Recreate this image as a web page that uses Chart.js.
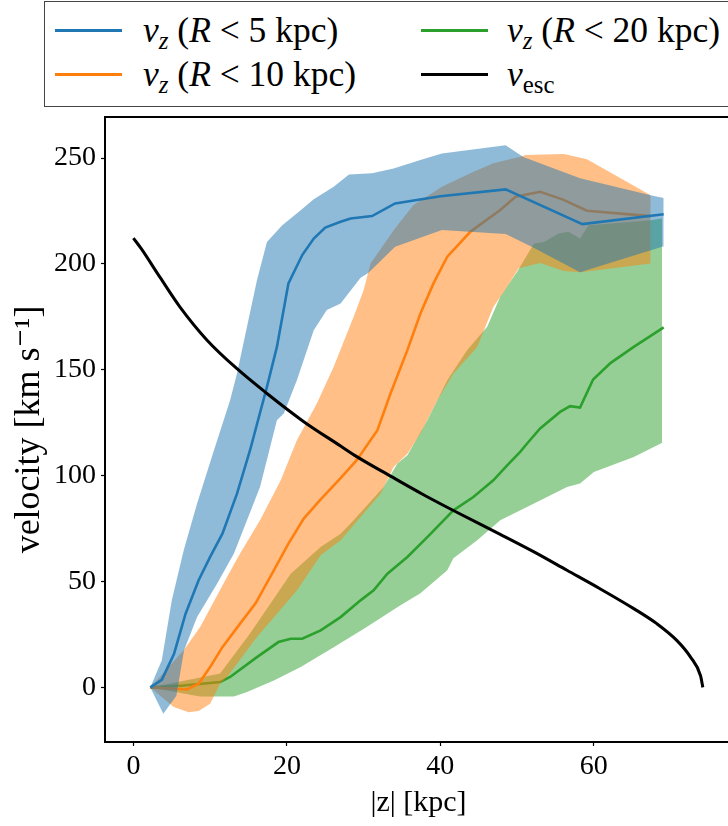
<!DOCTYPE html>
<html>
<head>
<meta charset="utf-8">
<script src="https://cdn.jsdelivr.net/npm/chart.js@4.4.0/dist/chart.umd.min.js"></script>
<style>
  html, body { margin: 0; padding: 0; background: #fff; overflow: hidden; }
  #wrap { position: relative; width: 728px; height: 826px; overflow: hidden; }
  #chart { position: absolute; left: 0; top: 0; }
  .legend {
    position: absolute; left: 44px; top: 1px; width: 720px; height: 106px;
    border: 1.5px solid #444; box-sizing: border-box; background: #fff;
    font-family: 'Liberation Serif', 'DejaVu Serif', serif; font-size: 35.5px; color: #000;
  }
  .handle { position: absolute; width: 67px; height: 3px; }
  .label { position: absolute; height: 44px; line-height: 44px; white-space: nowrap; }
  .label sub { font-size: 0.7em; vertical-align: -0.3em; line-height: 0; }
</style>
</head>
<body>
<div id="wrap">
  <canvas id="chart" width="740" height="826"></canvas>
  <div class="legend">
    <div class="handle" style="left:10px; top:27px; background:#1f77b4"></div>
    <div class="label" style="left:98px; top:6px"><i>v</i><sub><i>z</i></sub> (<i>R</i> &lt; 5 kpc)</div>
    <div class="handle" style="left:10px; top:71px; background:#ff7f0e"></div>
    <div class="label" style="left:98px; top:50px"><i>v</i><sub><i>z</i></sub> (<i>R</i> &lt; 10 kpc)</div>
    <div class="handle" style="left:376px; top:27px; background:#2ca02c"></div>
    <div class="label" style="left:462px; top:6px"><i>v</i><sub><i>z</i></sub> (<i>R</i> &lt; 20 kpc)</div>
    <div class="handle" style="left:376px; top:71px; background:#000"></div>
    <div class="label" style="left:462px; top:50px"><i>v</i><sub>esc</sub></div>
  </div>
</div>
<script>
// tick labels
const xTicks = [0, 20, 40, 60];
const yTicks = [0, 50, 100, 150, 200, 250];

// v_z (R < 5 kpc): median and band
const blueMidZ = [2.2, 3.7, 5.3, 6.8, 8.5, 10.0, 11.6, 13.5, 15.2, 17.4, 18.7, 20.2, 22.0, 23.5, 25.0, 27.0, 28.3, 31.1, 34.1, 40.0, 48.5, 58.5, 69.1];
const blueMidV = [0, 3.6, 15.9, 34.8, 50.6, 61.6, 72.6, 91.5, 112, 141.9, 160.8, 190.8, 204.2, 212, 217.2, 219.9, 221.5, 222.6, 228.6, 232, 235.2, 218.8, 223.5];
const blueHiZ = [2.2, 3.7, 5.0, 6.55, 8.3, 10.5, 12.6, 13.5, 14.8, 16.1, 17.4, 19.4, 21.8, 23.5, 26.1, 28.1, 31.1, 33.9, 37.4, 40.2, 48.5, 50.8, 58.2, 67.4, 69.1];
const blueHiV = [0, 12.8, 41, 64.7, 86.8, 112, 135.6, 148.3, 170.3, 192.3, 210.4, 218.3, 225.4, 230.5, 236.4, 242.3, 242.8, 245.1, 249.1, 252.2, 256.1, 250.5, 240.5, 232.5, 231.1];
const blueLoZ = [2.2, 3.9, 5.6, 6.6, 8.3, 10.9, 13.1, 14.8, 16.5, 18.7, 19.6, 21.3, 23.5, 25.2, 27.0, 29.6, 30.6, 34.1, 40.2, 48.5, 51.9, 58.2, 69.1];
const blueLoV = [0, -12.4, -4, 17.5, 33.2, 49, 63.2, 78.9, 94.7, 126.2, 129.3, 145.1, 168.7, 178.2, 181.3, 193.5, 195.7, 208.1, 216, 214.1, 208.1, 196.1, 208.4];

// v_z (R < 10 kpc)
const orangeMidZ = [2.2, 7.0, 8.5, 10.0, 11.6, 13.9, 15.9, 18.3, 20.2, 22.2, 24.4, 27.0, 29.1, 31.8, 33.5, 35.7, 37.4, 39.1, 40.9, 43.9, 47.8, 49.8, 53.0, 55.9, 59.1, 67.4];
const orangeMidV = [0, -1, 1.7, 9.6, 19, 30.1, 39.6, 55.3, 67.9, 79.7, 88.8, 98.8, 107.3, 121.5, 138.8, 159.3, 176.6, 190.8, 203.4, 215.2, 225.5, 231.7, 234.1, 230.5, 225.1, 222.6];
const orangeHiZ = [2.2, 6.55, 8.7, 12.2, 13.9, 16.5, 19.2, 21.3, 23.9, 26.1, 28.7, 30.0, 30.9, 34.1, 36.5, 40.2, 43.9, 46.9, 50.4, 51.1, 56.1, 59.1, 67.4];
const orangeHiV = [0, 17.5, 28.5, 52.1, 63.2, 78.9, 97.8, 116.7, 134.1, 151.4, 175, 187.6, 200.2, 216.8, 227.8, 236.4, 242.8, 247.5, 250.6, 251.4, 251.9, 249.4, 232.5];
const orangeLoZ = [2.2, 5.25, 7.2, 8.5, 10.0, 11.3, 12.2, 16.1, 21.3, 24.4, 27.0, 29.6, 32.2, 33.9, 35.7, 37.4, 39.6, 41.7, 44.8, 46.9, 48.7, 50.2, 53.0, 56.1, 58.2, 67.4];
const orangeLoV = [0, -9.3, -11.7, -11.2, -7.7, 1.7, 4.9, 23.8, 45.8, 62.4, 69.5, 80.5, 91.5, 104.1, 110.4, 119.9, 135.6, 148.3, 160.8, 179.7, 189.2, 198, 200.5, 196.7, 196.1, 200.2];

// v_z (R < 20 kpc)
const greenMidZ = [2.2, 6.55, 11.3, 12.6, 16.1, 18.9, 20.5, 22.0, 24.4, 27.0, 29.6, 31.3, 33.1, 35.7, 38.3, 41.7, 44.3, 46.9, 48.7, 50.4, 51.3, 53.0, 55.6, 56.9, 58.2, 59.9, 62.2, 65.2, 69.1];
const greenMidV = [0, 0.9, 2.5, 4.9, 14.3, 21.4, 23, 23, 26.9, 33.2, 41.1, 45.8, 53.7, 61.6, 71, 83.6, 89.9, 97.8, 104.9, 111.2, 115.2, 122.3, 130.1, 132.8, 132.2, 145.4, 153.3, 160.8, 170];
const greenHiZ = [2.2, 11.3, 15.2, 20.5, 24.4, 27.0, 28.7, 32.6, 34.4, 35.7, 38.3, 40.9, 43.5, 46.1, 47.8, 50.0, 52.2, 53.5, 55.4, 56.7, 58.2, 59.3, 67.4, 68.9];
const greenHiV = [0, 6.5, 25.4, 53.7, 66.3, 72.6, 78.9, 94.7, 105.7, 109.6, 126.2, 145.1, 159.3, 170.3, 184.5, 196.3, 209.7, 210.4, 214.4, 215.2, 212, 218.3, 220.6, 221.5];
const greenLoZ = [2.2, 8.7, 13.1, 14.8, 18.3, 21.8, 26.1, 30.4, 34.8, 37.4, 40.9, 41.7, 44.8, 47.8, 52.2, 56.5, 58.2, 60.0, 65.2, 68.9];
const greenLoV = [0, -4.3, -4.3, -2.2, 3.3, 9.6, 19, 28.5, 38.8, 44.4, 55.3, 61, 69.5, 78.9, 86.8, 94.7, 96.3, 101.7, 108.8, 115.5];

// escape velocity
const escZ = [0, 1.0, 3.5, 6.1, 9.6, 13.5, 17.4, 22.2, 27.0, 29.1, 33.5, 37.8, 42.2, 47.8, 52.2, 56.5, 60.8, 65.2, 68.2, 70.8, 72.6, 73.9, 74.2];
const escV = [212.2, 207.3, 193.5, 179.5, 164, 150.5, 138.8, 125.5, 114, 109, 99.8, 91, 82.6, 72.3, 64, 55.3, 46.6, 37.2, 30.1, 22.2, 14.3, 5.5, 0];

const pts = (zs, vs) => zs.map((z, i) => ({ x: z, y: vs[i] }));

function midLine(zs, vs, color, order) {
  return { data: pts(zs, vs), borderColor: color, borderWidth: 2.6, pointRadius: 0, fill: false, order };
}
function bandEdge(zs, vs, fillColor, target, order) {
  return { data: pts(zs, vs), borderWidth: 0, borderColor: 'rgba(0,0,0,0)', backgroundColor: fillColor, pointRadius: 0, fill: target, order };
}

// draw order: green, orange, blue, then escape velocity on top
const datasets = [
  midLine(greenMidZ, greenMidV, '#2ca02c', 70),
  bandEdge(greenHiZ, greenHiV, 'rgba(44,160,44,0.5)', 2, 60),
  bandEdge(greenLoZ, greenLoV, 'rgba(0,0,0,0)', false, 60),
  midLine(orangeMidZ, orangeMidV, '#ff7f0e', 50),
  bandEdge(orangeHiZ, orangeHiV, 'rgba(255,127,14,0.5)', 5, 40),
  bandEdge(orangeLoZ, orangeLoV, 'rgba(0,0,0,0)', false, 40),
  midLine(blueMidZ, blueMidV, '#1f77b4', 30),
  bandEdge(blueHiZ, blueHiV, 'rgba(31,119,180,0.5)', 8, 20),
  bandEdge(blueLoZ, blueLoV, 'rgba(0,0,0,0)', false, 20),
  { data: pts(escZ, escV), borderColor: '#000', borderWidth: 3, pointRadius: 0, fill: false,
    cubicInterpolationMode: 'monotone', order: 10 }
];

// top spine of the axes box
const framePlugin = {
  id: 'frame',
  afterDraw(chart) {
    const { ctx, chartArea: a } = chart;
    ctx.save();
    ctx.strokeStyle = '#000';
    ctx.lineWidth = 2;
    ctx.beginPath();
    ctx.moveTo(a.left - 1, a.top);
    ctx.lineTo(a.right, a.top);
    ctx.lineTo(a.right, a.bottom);
    ctx.stroke();
    ctx.restore();
  }
};

const font = { family: "'Liberation Serif', 'DejaVu Serif', serif", size: 28 };
const titleFont = { family: "'Liberation Serif', 'DejaVu Serif', serif", size: 36 };

new Chart(document.getElementById('chart'), {
  type: 'line',
  data: { datasets },
  options: {
    responsive: false,
    animation: false,
    layout: { padding: { left: 0, top: 117, right: 8, bottom: 0 } },
    plugins: {
      legend: { display: false },
      tooltip: { enabled: false },
      filler: { drawTime: 'beforeDatasetDraw' }
    },
    elements: { line: { tension: 0 } },
    scales: {
      x: {
        type: 'linear',
        min: -3.7,
        max: 78,
        afterBuildTicks: s => { s.ticks = xTicks.map(v => ({ value: v })); },
        afterFit: s => { s.height = 84; },
        ticks: { color: '#000', font, padding: 4, maxRotation: 0 },
        grid: { drawOnChartArea: false, drawTicks: true, tickLength: 4, tickWidth: 1.2, tickColor: '#000' },
        border: { display: true, color: '#000', width: 2 },
        title: { display: true, text: '|z| [kpc]', color: '#000', font: { ...font, size: 30 }, padding: { top: 0, bottom: 5 } }
      },
      y: {
        type: 'linear',
        min: -25.8,
        max: 269.4,
        afterBuildTicks: s => { s.ticks = yTicks.map(v => ({ value: v })); },
        afterFit: s => { s.width = 105; },
        ticks: { color: '#000', font, padding: 5 },
        grid: { drawOnChartArea: false, drawTicks: true, tickLength: 4, tickWidth: 1.2, tickColor: '#000' },
        border: { display: true, color: '#000', width: 2 },
        title: { display: true, text: 'velocity [km s\u207B\u00B9]', color: '#000', font: titleFont, padding: { top: 8, bottom: 0 } }
      }
    }
  },
  plugins: [framePlugin]
});
</script>
</body>
</html>
